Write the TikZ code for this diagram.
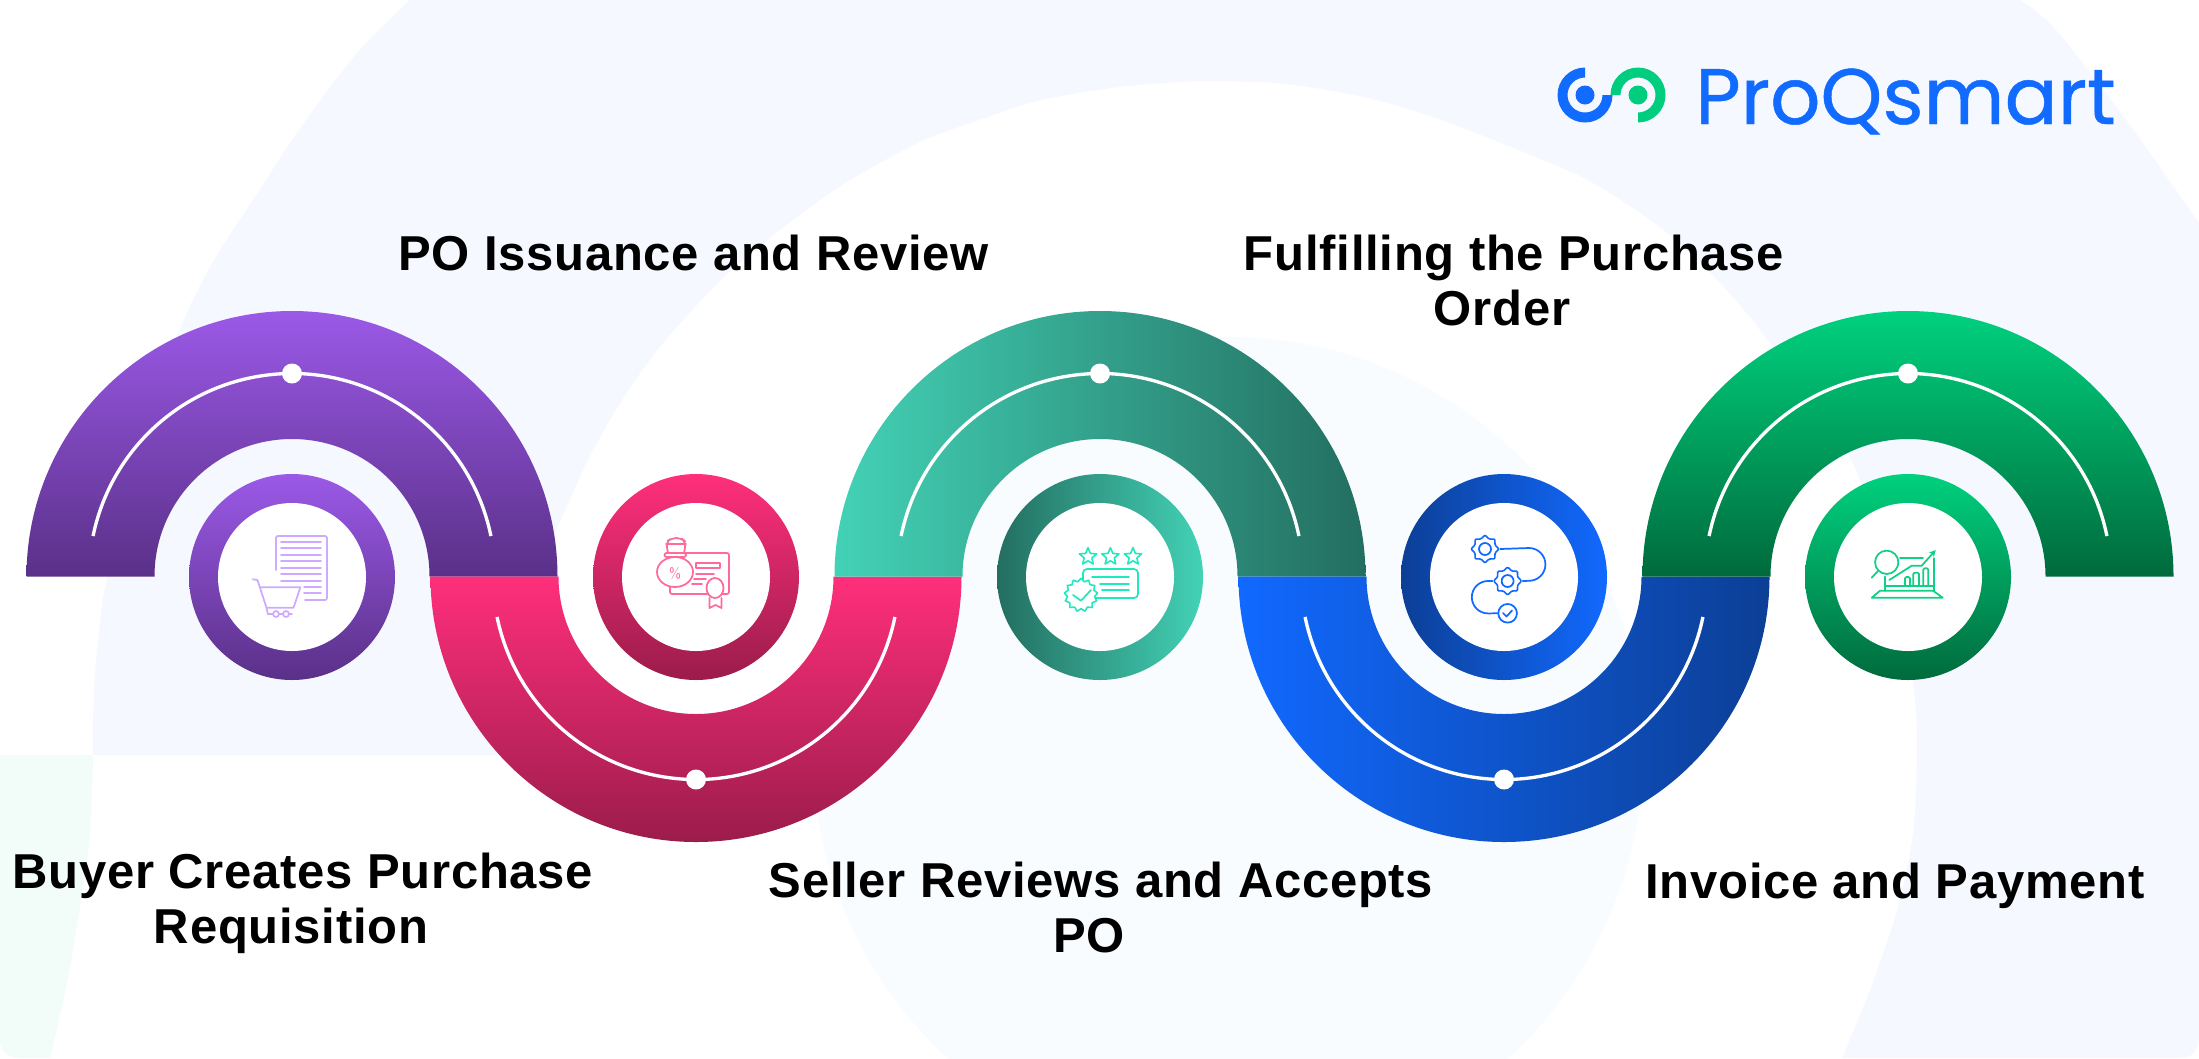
\documentclass[tikz,border=0pt]{standalone}
\usepackage{fontspec}
\newfontfamily\labelfont[LetterSpace=1.5]{Liberation Sans}
\newfontfamily\logofont[FakeBold=0.6]{Poppins}
\usetikzlibrary{shapes.geometric,arrows.meta}
\definecolor{bgblue}{HTML}{F5F8FF}
\definecolor{bgfaint}{HTML}{F9FCFF}
\definecolor{bggreen}{HTML}{F2FCF9}
\definecolor{logoblue}{HTML}{126BFF}
\definecolor{logogreen}{HTML}{00CD7D}
\tikzset{
  purpleshade/.style={top color=HTMLpurpleA,bottom color=HTMLpurpleB},
  pinkshade/.style={top color=HTMLpinkA,bottom color=HTMLpinkB},
  tealband/.style={left color=HTMLtealA,right color=HTMLtealB},
  tealring/.style={left color=HTMLtealB,right color=HTMLtealA},
  blueband/.style={left color=HTMLblueA,right color=HTMLblueB},
  bluering/.style={left color=HTMLblueB,right color=HTMLblueA},
  greenshade/.style={top color=HTMLgreenA,bottom color=HTMLgreenB},
  steplabel/.style={font=\labelfont\bfseries\fontsize{36.75}{41}\selectfont,align=center,anchor=base,inner sep=0pt},
  iconline/.style={line width=1.3pt,line cap=round,line join=round},
  iconstar/.style={star,draw,inner sep=0pt,line width=1.2pt,line join=round},
}
\definecolor{HTMLpurpleA}{HTML}{9B59E7}
\definecolor{HTMLpurpleB}{HTML}{5A3088}
\definecolor{HTMLpinkA}{HTML}{FF2F7B}
\definecolor{HTMLpinkB}{HTML}{9B1C4B}
\definecolor{HTMLtealA}{HTML}{43D2B6}
\definecolor{HTMLtealB}{HTML}{236E60}
\definecolor{HTMLblueA}{HTML}{1169FF}
\definecolor{HTMLblueB}{HTML}{0C3F96}
\definecolor{HTMLgreenA}{HTML}{00D17E}
\definecolor{HTMLgreenB}{HTML}{006A3C}
\definecolor{iconpurple}{HTML}{CFA9FF}
\definecolor{iconpink}{HTML}{FF6A9A}
\definecolor{iconteal}{HTML}{21E9BF}
\definecolor{iconblue}{HTML}{1169FF}
\definecolor{icongreen}{HTML}{0FD085}

\begin{document}
\begin{tikzpicture}[x=0.75pt,y=0.75pt,yscale=-1]
  \useasboundingbox (0,0) rectangle (2199,1058);
  \clip (0,0) rectangle (2199,1058);
  % background
  \fill[white] (0,0) rectangle (2199,1058);
  \fill[bgblue] plot[smooth] coordinates {(93,755) (93,727) (95,673) (100,623) (107,578) (140,445) (181,327) (214,260) (255,197) (301,127) (357,53) (410,0)}
    -- plot[smooth] coordinates {(2020,0) (2056,30) (2126,120) (2199,223)} -- (2199,1037)
    .. controls (2199,1050) and (2192,1058) .. (2180,1058) -- (1842,1058)
    -- plot[smooth] coordinates {(1842,1058) (1870,990) (1898,907) (1913,833) (1917,757) (1915,700) (1900,600) (1860,480) (1819,400) (1773,347) (1750,317) (1708,270) (1666,232) (1624,202) (1582,177) (1526,153) (1476,133) (1427,115) (1377,100) (1327,90) (1277,83) (1213,81) (1178,82) (1128,86) (1078,93) (1029,103) (979,120) (929,138) (879.5,163) (830,193) (780,230) (724,277) (663,343) (622,400) (588,460) (555,533)}
    -- (500,755) -- cycle;
  \fill[bggreen] (0,755) -- (93,755)
    -- plot[smooth] coordinates {(93,755) (90,833) (80,907) (67,983) (50,1058)}
    -- (20,1058) .. controls (8,1058) and (0,1050) .. (0,1040) -- cycle;
  \fill[bgfaint] (1228,752) circle (415);
  % bands
  \foreach \cx/\bandstyle/\sgn in {292/purpleshade/-1,696/pinkshade/1,1100/tealband/-1,1504/blueband/1,1908/greenshade/-1} {
    \shade[\bandstyle] (\cx+265.5,576.5) arc (0:\sgn*180:265.5) -- (\cx-137.5,576.5) arc (\sgn*180:0:137.5) -- cycle;
    \draw[white,line width=2.5pt] (\cx,576.5) ++(\sgn*11.5:203) arc (\sgn*11.5:\sgn*168.5:203);
    \fill[white] (\cx,576.5) ++(\sgn*90:203) circle (10);
  }
  % rings
  \foreach \cx/\ringstyle in {292/purpleshade,696/pinkshade,1100/tealring,1504/bluering,1908/greenshade} {
    \shade[\ringstyle] (\cx,577) circle (103);
    \fill[white] (\cx,577) circle (74);
  }
  % cart and list
  \begin{scope}[iconpurple,iconline]
    \draw[rounded corners=1.5pt] (276,570) |- (327,536) |- (305,600);
    \foreach \y in {541.7,548.3,555,561.3,567.7,574.3,580.7}
      \draw (281,\y) -- (321,\y);
    \foreach \y in {587,593.3}
      \draw (304,\y) -- (321,\y);
    \draw (252.7,579.3) -- (257.5,580) -- (266.5,607.7) -- (293.5,607.7) -- (300.4,587.3) -- (260,587.3);
    \draw (266.5,607.7) -- (267.8,614) -- (292,614);
    \draw[fill=white] (276,614) circle (3);
    \draw[fill=white] (286,614) circle (3);
  \end{scope}
  % certificate and money bag
  \begin{scope}[iconpink,iconline]
    \draw[rounded corners=1.5pt] (680,553) -| (729,594) -| (670,585);
    \draw (696,563) rectangle (720,568);
    \draw (696,574) -- (714,574);
    \draw (694,579) -- (706,579);
    \draw (692,584) -- (702,584);
    \draw[fill=white] (675,572) ellipse (18 and 15);
    \draw[fill=white,rounded corners=1.5pt] (664.5,553) rectangle (686,557);
    \draw[rounded corners=4pt] (668,553) -- (666,542) -- (672,538) -- (681,538) -- (686,542) -- (684,553);
    \draw (666,544) -- (686,544);
    \node[text=iconpink,font=\sffamily\fontsize{11}{11}\selectfont,inner sep=0pt] (percentmark) at (675,573) {\%};
    \draw[fill=white] (715,588) circle (8.5 and 10);
    \draw (709.5,598) -- (709.5,608) -- (715.5,605) -- (721.5,608) -- (721.5,598);
  \end{scope}
  % stars and review
  \begin{scope}[iconteal,iconline]
    \foreach \n/\x in {a/1088,b/1110.4,c/1133}
      \node[iconstar,star points=5,minimum size=13.5pt,star point ratio=2.2] (star\n) at (\x,556.7) {};
    \draw[rounded corners=3pt] (1083,569) rectangle (1138,598);
    \draw (1092,577) -- (1129,577);
    \draw (1100,584) -- (1129,584);
    \draw (1102,590) -- (1129,590);
    \node[iconstar,fill=white,star points=13,minimum size=25pt,star point ratio=1.22] (badge) at (1081,595) {};
    \draw (1073,595) -- (1081,600.7) -- (1091,590);
  \end{scope}
  % gears and process line
  \begin{scope}[iconblue,iconline]
    \node[iconstar,star points=8,minimum size=21pt,star point ratio=1.3,rounded corners=0.8pt] (gearone) at (1485,549) {};
    \node[iconstar,star points=8,minimum size=21pt,star point ratio=1.3,rounded corners=0.8pt] (geartwo) at (1507.6,581) {};
    \node[draw,circle,line width=1.3pt,minimum size=9pt,inner sep=0pt] (holeone) at (gearone) {};
    \node[draw,circle,line width=1.3pt,minimum size=9pt,inner sep=0pt] (holetwo) at (geartwo) {};
    \node[draw,circle,line width=1.3pt,minimum size=14pt,inner sep=0pt] (checkmark) at (1507.6,613.3) {};
    \draw (gearone.east) -- (1529,548) arc (-90:90:16.4) -- (geartwo.east);
    \draw (geartwo.west) -- (1488,581) arc (-90:-270:16.2) -- (checkmark.west);
    \draw (1503,613) -- (1506.5,616.5) -- (1512,610.5);
  \end{scope}
  % chart on laptop
  \begin{scope}[icongreen,iconline]
    \node[draw,circle,line width=1.3pt,minimum size=17.5pt,inner sep=0pt] (lens) at (1886.7,562.3) {};
    \draw (lens.south west) -- (1871.7,577.7);
    \draw (1871.7,597.7) -- (1942.7,597.7) -- (1933,590.7) -- (1880,590.7) -- cycle;
    \draw (1885,576.7) -- (1885,590.7);
    \draw (1934,558.3) -- (1934,590.7);
    \draw (1885,585.7) -- (1934,585.7);
    \draw (1900,558) -- (1923,558);
    \draw[-{Stealth[length=5pt,width=5pt]}] (1889.3,580) -- (1911.7,565.7) -- (1921.7,565.7) -- (1935.7,550);
    \draw[rounded corners=1pt] (1905,585.7) |- (1910,577) -- (1910,585.7);
    \draw[rounded corners=1pt] (1913.3,585.7) |- (1919,572.7) -- (1919,585.7);
    \draw[rounded corners=1pt] (1923.3,585.7) |- (1928.3,568.3) -- (1928.3,585.7);
  \end{scope}
  % labels
  \node[steplabel] (requisition) at (303,943) {Buyer Creates Purchase\\Requisition\hspace*{18pt}};
  \node[steplabel] (issuance) at (693.5,270) {PO Issuance and Review};
  \node[steplabel] (acceptance) at (1101,952) {Seller Reviews and Accepts\\PO\hspace*{18pt}};
  \node[steplabel] (fulfilment) at (1514,325) {Fulfilling the Purchase\\Order\hspace*{18pt}};
  \node[steplabel] (payment) at (1895,898) {Invoice and Payment};
  % logo
  \fill[logoblue] (1585,67.5) arc (-90:-360:27.5) -- (1602.5,95) arc (-360:-90:17.5) -- cycle;
  \fill[logoblue] (1585,95) circle (9.5);
  \fill[logogreen] (1638,122.5) arc (90:-180:27.5) -- (1620.5,95) arc (-180:90:17.5) -- cycle;
  \fill[logogreen] (1638,95) circle (9.5);
  \node[font=\logofont\fontsize{59}{59}\selectfont,text=logoblue,anchor=base west,inner sep=0pt] (wordmark) at (1695,124) {ProQsmart};
\end{tikzpicture}
\end{document}
